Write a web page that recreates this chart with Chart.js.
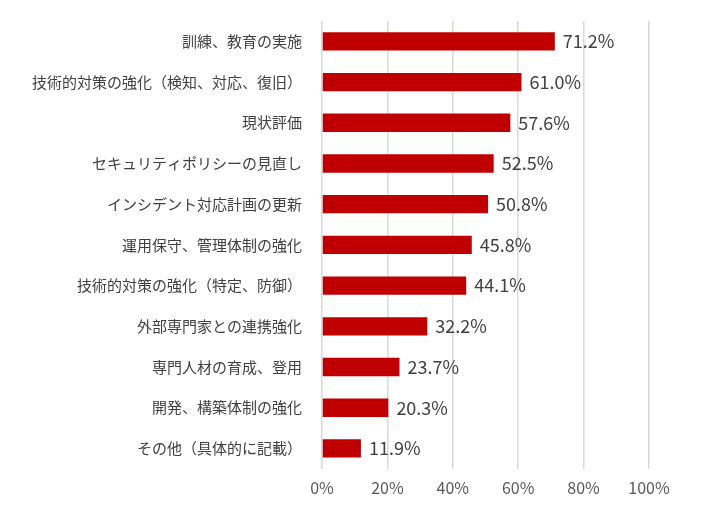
<!DOCTYPE html>
<html><head><meta charset="utf-8">
<script src="https://cdn.jsdelivr.net/npm/chart.js@4"></script>
<style>html,body{margin:0;padding:0;background:#fff}#wrap{width:701px;height:522px}</style>
</head><body><div id="wrap"><canvas id="c"></canvas></div>
<script>
const categories=['訓練、教育の実施','技術的対策の強化（検知、対応、復旧）','現状評価','セキュリティポリシーの見直し','インシデント対応計画の更新','運用保守、管理体制の強化','技術的対策の強化（特定、防御）','外部専門家との連携強化','専門人材の育成、登用','開発、構築体制の強化','その他（具体的に記載）'];
const values=[71.2,61.0,57.6,52.5,50.8,45.8,44.1,32.2,23.7,20.3,11.9];
const ticks=[0,20,40,60,80,100];

const valueLabels={id:'valueLabels',afterDatasetsDraw(chart){
  const ctx=chart.ctx;const meta=chart.getDatasetMeta(0);
  ctx.save();ctx.font='18px "Noto Sans CJK JP", sans-serif';ctx.fillStyle='#404040';ctx.textBaseline='middle';
  meta.data.forEach((b,i)=>ctx.fillText(values[i].toFixed(1)+'%',b.x+8,b.y));
  ctx.restore();
}};

new Chart(document.getElementById('c'),{
  type:'bar',
  data:{labels:categories,datasets:[{data:values,backgroundColor:'#C00000',barPercentage:0.45,categoryPercentage:1}]},
  options:{indexAxis:'y',responsive:true,maintainAspectRatio:false,animation:false,
    layout:{padding:{top:18,right:52,bottom:14,left:0}},
    plugins:{legend:{display:false},tooltip:{enabled:false}},
    scales:{
      x:{min:0,max:100,afterBuildTicks(s){s.ticks=ticks.map(v=>({value:v}));},
        ticks:{color:'#595959',padding:10,font:{size:16,family:'"Noto Sans CJK JP", sans-serif'},callback:v=>v+'%'},
        grid:{color:'#D9D9D9',lineWidth:1.5,drawTicks:false},border:{display:false}},
      y:{afterFit(s){s.width=322;},
        ticks:{color:'#404040',padding:12,font:{size:15,family:'"Noto Sans CJK JP", sans-serif'}},
        grid:{display:false},border:{display:false}}
    }},
  plugins:[valueLabels]
});
</script></body></html>
